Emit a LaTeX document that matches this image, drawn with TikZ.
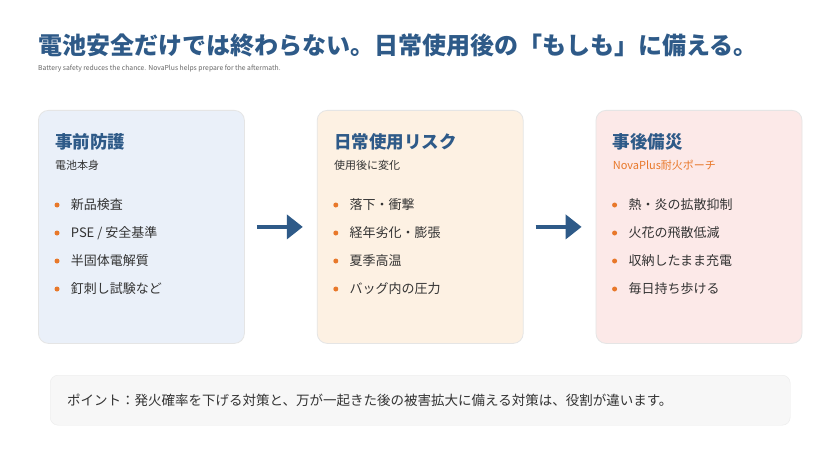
\documentclass[tikz,border=0pt]{standalone}
\usepackage{fontspec}
\setmainfont{Noto Sans CJK JP}
\usetikzlibrary{positioning,arrows.meta}
\definecolor{myblue}{HTML}{2E5A88}
\definecolor{myorange}{HTML}{E8782A}
\definecolor{pag}{HTML}{333333}
\definecolor{boxblue}{HTML}{EAF0F9}
\definecolor{boxorange}{HTML}{FDF1E3}
\definecolor{boxred}{HTML}{FCE9E8}
\tikzset{
  card/.style={draw=black!10, line width=0.8pt, rounded corners=10pt, minimum width=206pt, minimum height=233pt},
  head/.style={anchor=west, text=myblue, font=\fontsize{17.5}{20}\selectfont\bfseries, inner sep=0pt},
  sub/.style={anchor=west, text=pag, font=\fontsize{11}{13}\selectfont, inner sep=0pt},
  item/.style={anchor=west, text=pag, font=\fontsize{13}{15}\selectfont, inner sep=0pt},
  dot/.style={circle, fill=myorange, inner sep=0pt, minimum size=5pt},
  flow/.style={-{Triangle[length=16pt,width=24pt]}, line width=4pt, myblue, shorten <=12pt, shorten >=14pt}
}
\newcommand{\bullets}[5]{%
  \foreach \t [count=\i] in {#2,#3,#4,#5} {
    \node[dot] (#1d\i) at ($(#1.north west)+(19pt,-95pt-28*\i pt+28pt)$) {};
    \node[item, right=11pt of #1d\i] (#1t\i) {\t};
  }}
\usetikzlibrary{calc}
\begin{document}
\begin{tikzpicture}[x=1pt,y=-1pt]
  \useasboundingbox[fill=white] (0,0) rectangle (840,473);
  %% title
  \node[anchor=west, inner sep=0pt, text=myblue, font=\fontsize{24}{28}\selectfont\bfseries] (title) at (38,45) {電池安全だけでは終わらない。日常使用後の「もしも」に備える。};
  \node[anchor=west, inner sep=0pt, text=black!60, font=\fontsize{6.8}{8}\selectfont] (subtitle) at (38,69) {Battery safety reduces the chance. NovaPlus helps prepare for the aftermath.};
  %% the three cards
  \node[card, fill=boxblue, anchor=north west] (pre) at (38,110) {};
  \node[card, fill=boxorange, right=72pt of pre] (use) {};
  \node[card, fill=boxred, right=72pt of use] (post) {};
  \node[head] (preh) at ($(pre.north west)+(17pt,-32pt)$) {事前防護};
  \node[sub] (pres) at ($(pre.north west)+(17pt,-55pt)$) {電池本身};
  \node[head] (useh) at ($(use.north west)+(17pt,-32pt)$) {日常使用リスク};
  \node[sub] (uses) at ($(use.north west)+(17pt,-55pt)$) {使用後に変化};
  \node[head] (posth) at ($(post.north west)+(17pt,-32pt)$) {事後備災};
  \node[sub, text=myorange] (posts) at ($(post.north west)+(17pt,-55pt)$) {NovaPlus耐火ポーチ};
  \bullets{pre}{新品検査}{PSE / 安全基準}{半固体電解質}{釘刺し試験など}
  \bullets{use}{落下・衝撃}{経年劣化・膨張}{夏季高温}{バッグ内の圧力}
  \bullets{post}{熱・炎の拡散抑制}{火花の飛散低減}{収納したまま充電}{毎日持ち歩ける}
  %% arrows
  \draw[flow] (pre.east) -- (use.west);
  \draw[flow] (use.east) -- (post.west);
  %% note
  \node[draw=black!8, fill=black!3, rounded corners=8pt, minimum width=740pt, minimum height=50pt, anchor=north west] (note) at (50,375) {};
  \node[anchor=west, inner sep=0pt, text=pag, font=\fontsize{13.5}{15}\selectfont] (notet) at ($(note.west)+(17pt,0)$) {ポイント：発火確率を下げる対策と、万が一起きた後の被害拡大に備える対策は、役割が違います。};
\end{tikzpicture}
\end{document}
